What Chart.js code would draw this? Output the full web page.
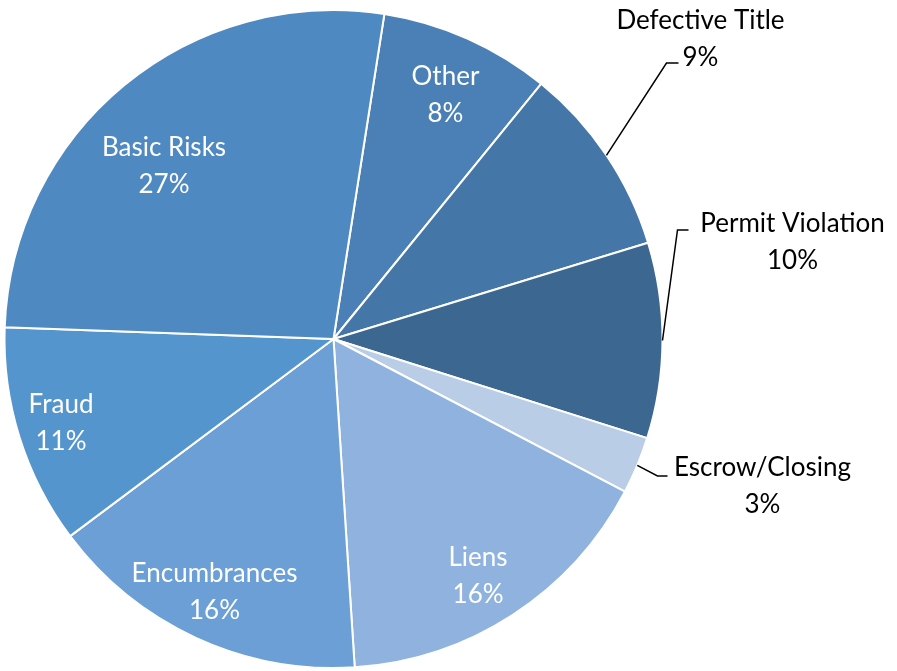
<!DOCTYPE html>
<html>
<head>
<meta charset="utf-8">
<script src="https://cdn.jsdelivr.net/npm/chart.js@4.4.0/dist/chart.umd.min.js"></script>
<style>
  html, body { margin: 0; padding: 0; background: #fff; }
  #wrap { width: 897px; height: 671px; }
</style>
</head>
<body>
<div id="wrap"><canvas id="pie"></canvas></div>
<script>
// Slices clockwise from the top (first slice starts a little right of 12 o'clock)
const categories = ['Other', 'Defective Title', 'Permit Violation', 'Escrow/Closing', 'Liens', 'Encumbrances', 'Fraud', 'Basic Risks'];
const shares = [8.4, 9.4, 9.6, 2.8, 16.3, 15.8, 10.8, 26.9];
const percentLabels = ['8%', '9%', '10%', '3%', '16%', '16%', '11%', '27%'];
const sliceColors = ['#4a80b6', '#4576a8', '#3c6791', '#b9cde7', '#8fb3de', '#6b9fd6', '#5495cd', '#4f89c2'];

const FONT = '26px Lato, "Open Sans", sans-serif';

// label placement per slice: inside ones sit along the mid angle,
// outside ones get a leader line with an elbow (offsets from the pie centre, px)
const placement = [
  { inside: true, frac: 0.82, turn: 0.5 },
  { inside: false, elbow: [333, -276], tail: 12, label: [367, -302] },
  { inside: false, elbow: [344, -109], tail: 11, label: [459, -99] },
  { inside: false, elbow: [324, 137], tail: 10, label: [429, 145] },
  { inside: true, frac: 0.84, turn: 1.5 },
  { inside: true, frac: 0.845, turn: 0.6 },
  { inside: true, frac: 0.865, turn: 0.6 },
  { inside: true, frac: 0.74, turn: -4.6 }
];

const sliceLabels = {
  id: 'sliceLabels',
  afterDatasetsDraw(chart) {
    const ctx = chart.ctx;
    const arcs = chart.getDatasetMeta(0).data;
    ctx.save();
    ctx.font = FONT;
    ctx.textAlign = 'center';
    ctx.textBaseline = 'middle';
    arcs.forEach((arc, i) => {
      const p = placement[i];
      const mid = (arc.startAngle + arc.endAngle) / 2;
      const r = arc.outerRadius;
      let lx, ly;
      if (p.inside) {
        const a = mid + p.turn * Math.PI / 180;
        lx = arc.x + Math.cos(a) * r * p.frac;
        ly = arc.y + Math.sin(a) * r * p.frac;
        ctx.fillStyle = '#ffffff';
      } else {
        const ex = arc.x + p.elbow[0], ey = arc.y + p.elbow[1];
        ctx.strokeStyle = '#000000';
        ctx.lineWidth = 1.5;
        ctx.beginPath();
        ctx.moveTo(arc.x + Math.cos(mid) * r, arc.y + Math.sin(mid) * r);
        ctx.lineTo(ex, ey);
        ctx.lineTo(ex + p.tail, ey);
        ctx.stroke();
        lx = arc.x + p.label[0];
        ly = arc.y + p.label[1];
        ctx.fillStyle = '#000000';
      }
      ctx.fillText(categories[i], lx, ly - 16.5);
      ctx.fillText(percentLabels[i], lx, ly + 20.5);
    });
    ctx.restore();
  }
};

new Chart(document.getElementById('pie'), {
  type: 'pie',
  data: {
    labels: categories,
    datasets: [{
      data: shares,
      backgroundColor: sliceColors,
      borderColor: '#ffffff',
      borderWidth: 2
    }]
  },
  options: {
    responsive: true,
    maintainAspectRatio: false,
    animation: false,
    rotation: 8.9,
    layout: { padding: { left: 3, right: 233, top: 9, bottom: 2 } },
    plugins: {
      legend: { display: false },
      tooltip: { enabled: false }
    }
  },
  plugins: [sliceLabels]
});
</script>
</body>
</html>
